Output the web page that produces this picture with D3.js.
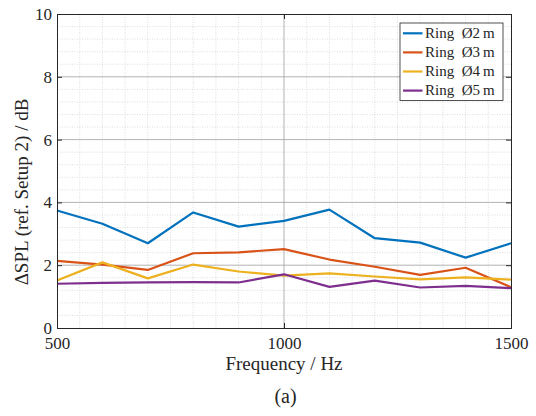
<!DOCTYPE html>
<html>
<head>
<meta charset="utf-8">
<script src="https://cdn.jsdelivr.net/npm/d3@7"></script>
<style>
  html, body { margin: 0; padding: 0; background: #fff; }
</style>
</head>
<body>
<svg id="chart" width="536" height="416"></svg>
<script>
// Frequencies (Hz) at which the level difference was evaluated
const frequencies = [500, 600, 700, 800, 900, 1000, 1100, 1200, 1300, 1400, 1500];

// ΔSPL relative to setup 2, in dB, one array per ring diameter
const ring2m = [3.74, 3.32, 2.70, 3.68, 3.23, 3.41, 3.77, 2.86, 2.72, 2.24, 2.70];
const ring3m = [2.14, 2.02, 1.85, 2.38, 2.41, 2.51, 2.18, 1.95, 1.69, 1.92, 1.30];
const ring4m = [1.51, 2.09, 1.58, 2.02, 1.80, 1.67, 1.74, 1.64, 1.55, 1.61, 1.54];
const ring5m = [1.41, 1.44, 1.45, 1.46, 1.45, 1.71, 1.31, 1.51, 1.29, 1.34, 1.27];

const seriesNames = ["Ring  Ø2\u2009m", "Ring  Ø3\u2009m", "Ring  Ø4\u2009m", "Ring  Ø5\u2009m"];
const seriesColors = ["#0072BD", "#D95319", "#EDB120", "#7E2F8E"];
const seriesValues = [ring2m, ring3m, ring4m, ring5m];

const xTicks = [500, 1000, 1500];
const yTicks = [0, 2, 4, 6, 8, 10];

const FONT = "'Liberation Serif', 'Times New Roman', serif";
const INK = "#262626";

const margin = { left: 57, right: 25, top: 14, bottom: 88 };
const W = 536, H = 416;
const svg = d3.select("#chart");

const x = d3.scaleLinear().domain([500, 1500]).range([margin.left, W - margin.right]);
const y = d3.scaleLinear().domain([0, 10]).range([H - margin.bottom, margin.top]);

const plot = svg.append("g");

// minor grid: every 50 Hz and every 0.4 dB
const xMinor = d3.range(550, 1500, 50).filter(v => !xTicks.includes(v));
const yMinor = d3.range(1, 25).map(i => +(i * 0.4).toFixed(1)).filter(v => !yTicks.includes(v));
plot.selectAll("line.xminor").data(xMinor).join("line")
  .attr("x1", d => x(d)).attr("x2", d => x(d))
  .attr("y1", y(0)).attr("y2", y(10))
  .attr("stroke", "#c8c8c8").attr("stroke-width", 0.6).attr("stroke-dasharray", "1,1.5");
plot.selectAll("line.yminor").data(yMinor).join("line")
  .attr("x1", x(500)).attr("x2", x(1500))
  .attr("y1", d => y(d)).attr("y2", d => y(d))
  .attr("stroke", "#c8c8c8").attr("stroke-width", 0.6).attr("stroke-dasharray", "1,1.5");

// major grid
plot.selectAll("line.xmajor").data(xTicks.slice(1, -1)).join("line")
  .attr("x1", d => x(d)).attr("x2", d => x(d))
  .attr("y1", y(0)).attr("y2", y(10))
  .attr("stroke", "#a0a0a0").attr("stroke-width", 0.8);
plot.selectAll("line.ymajor").data(yTicks.slice(1, -1)).join("line")
  .attr("x1", x(500)).attr("x2", x(1500))
  .attr("y1", d => y(d)).attr("y2", d => y(d))
  .attr("stroke", "#a0a0a0").attr("stroke-width", 0.8);

// data lines
const line = d3.line().x((d, i) => x(frequencies[i])).y(d => y(d));
seriesValues.forEach((vals, k) => {
  plot.append("path").datum(vals)
    .attr("d", line)
    .attr("fill", "none")
    .attr("stroke", seriesColors[k])
    .attr("stroke-width", 2.2)
    .attr("stroke-linejoin", "round");
});

// axes (box on all four sides, ticks pointing inward)
const xAxis = d3.axisBottom(x).tickValues(xTicks).tickSize(-5).tickPadding(9).tickFormat(d3.format("d"));
const yAxis = d3.axisLeft(y).tickValues(yTicks).tickSize(-5).tickPadding(5).tickFormat(d3.format("d"));
const xTop = d3.axisTop(x).tickValues(xTicks).tickSize(-5).tickFormat("");
const yRight = d3.axisRight(y).tickValues(yTicks).tickSize(-5).tickFormat("");

function styleAxis(g) {
  g.select(".domain").attr("stroke", INK).attr("stroke-width", 1);
  g.selectAll(".tick line").attr("stroke", INK).attr("stroke-width", 1);
  g.selectAll(".tick text").style("font-size", "17px").style("font-family", FONT).attr("fill", INK);
}
svg.append("g").attr("transform", `translate(0,${y(0)})`).call(xAxis).call(styleAxis);
svg.append("g").attr("transform", `translate(${x(500)},0)`).call(yAxis).call(styleAxis);
svg.append("g").attr("transform", `translate(0,${y(10)})`).call(xTop).call(styleAxis);
svg.append("g").attr("transform", `translate(${x(1500)},0)`).call(yRight).call(styleAxis);

function label(sel, size) {
  return sel.style("font-family", FONT).style("font-size", size + "px").attr("fill", INK);
}

// axis labels
svg.append("text")
  .attr("x", x(1000)).attr("y", 369.5)
  .attr("text-anchor", "middle")
  .call(label, 19)
  .text("Frequency / Hz");
svg.append("text")
  .attr("transform", `translate(27.5,192) rotate(-90)`)
  .attr("text-anchor", "middle")
  .call(label, 19)
  .text("ΔSPL (ref. Setup 2) / dB");

// panel tag
svg.append("text")
  .attr("x", 285.5).attr("y", 403)
  .attr("text-anchor", "middle")
  .call(label, 20)
  .text("(a)");

// legend
const lg = svg.append("g").attr("transform", "translate(400,23)");
lg.append("rect").attr("width", 103).attr("height", 77.5)
  .attr("fill", "#fff").attr("stroke", INK).attr("stroke-width", 0.8);
seriesNames.forEach((name, k) => {
  const ly = 10.3 + k * 19.1;
  lg.append("line").attr("x1", 3).attr("x2", 22.5).attr("y1", ly).attr("y2", ly)
    .attr("stroke", seriesColors[k]).attr("stroke-width", 2.2);
  lg.append("text").attr("x", 25).attr("y", ly + 4.8)
    .attr("xml:space", "preserve")
    .style("white-space", "pre")
    .call(label, 15)
    .text(name);
});
</script>
</body>
</html>
